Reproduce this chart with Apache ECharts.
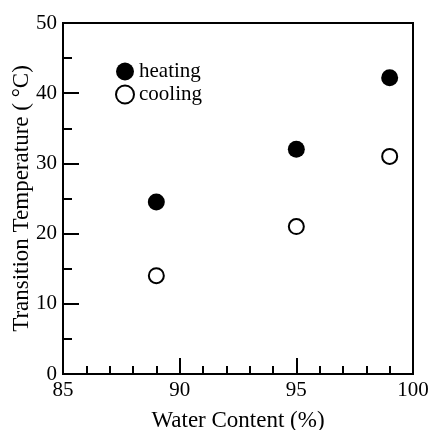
<!DOCTYPE html>
<html>
<head>
<meta charset="utf-8">
<script src="https://cdn.jsdelivr.net/npm/echarts@6/dist/echarts.min.js"></script>
<style>
html,body{margin:0;padding:0;background:#fff;}
#chart{width:431px;height:430px;}
</style>
</head>
<body>
<div id="chart"></div>
<script>
// water content (%)
var waterContent = [89, 95, 99];
// transition temperatures (°C)
var heatingTemp = [24.5, 32, 42.2];
var coolingTemp = [14, 21, 31];

function pairs(xs, ys){
	var out = [];
	for (var i = 0; i < xs.length; i++) out.push([xs[i], ys[i]]);
	return out;
}

var font = 'Liberation Serif';
var tickFont = {fontFamily: font, fontSize: 21, color: '#000'};
var nameFont = {fontFamily: font, fontSize: 23, color: '#000'};
var myChart = echarts.init(document.getElementById('chart'));
myChart.setOption({
	animation: false,
	textStyle: {fontFamily: font},
	grid: {left: 63, right: 18, top: 23, bottom: 56, outerBoundsMode: 'none', containLabel: false},
	legend: {
		left: 110, top: 56, orient: 'vertical', itemGap: 2,
		itemWidth: 18, itemHeight: 18,
		textStyle: {fontFamily: font, fontSize: 21, color: '#000', padding: [0, 0, 0, 0]},
		data: [{name: 'heating', icon: 'circle'}, {name: 'cooling', icon: 'circle'}]
	},
	xAxis: {
		type: 'value', min: 85, max: 100, interval: 5,
		name: 'Water Content (%)', nameLocation: 'middle', nameGap: 35, nameMoveOverlap: false,
		nameTextStyle: nameFont,
		axisLine: {onZero: false, lineStyle: {color: '#000', width: 2}},
		axisTick: {inside: true, length: 16, lineStyle: {color: '#000', width: 2}},
		minorTick: {show: true, splitNumber: 5, length: 8, lineStyle: {color: '#000', width: 2}},
		axisLabel: Object.assign({margin: 6}, tickFont),
		splitLine: {show: false}
	},
	yAxis: {
		type: 'value', min: 0, max: 50, interval: 10,
		name: 'Transition Temperature ( °C)', nameLocation: 'middle', nameGap: 30, nameMoveOverlap: false,
		nameTextStyle: nameFont,
		axisLine: {onZero: false, lineStyle: {color: '#000', width: 2}},
		axisTick: {inside: true, length: 16, lineStyle: {color: '#000', width: 2}},
		minorTick: {show: true, splitNumber: 2, length: 9, lineStyle: {color: '#000', width: 2}},
		axisLabel: Object.assign({margin: 6}, tickFont),
		splitLine: {show: false}
	},
	graphic: [{
		type: 'rect', silent: true, z: 0,
		shape: {x: 63, y: 23, width: 350, height: 351},
		style: {fill: 'none', stroke: '#000', lineWidth: 2}
	}],
	series: [{
		name: 'heating', type: 'scatter', symbol: 'circle', symbolSize: 17,
		itemStyle: {color: '#000', opacity: 1},
		data: pairs(waterContent, heatingTemp)
	}, {
		name: 'cooling', type: 'scatter', symbol: 'circle', symbolSize: 15,
		itemStyle: {color: '#fff', borderColor: '#000', borderWidth: 2, opacity: 1},
		data: pairs(waterContent, coolingTemp)
	}]
});
</script>
</body>
</html>
